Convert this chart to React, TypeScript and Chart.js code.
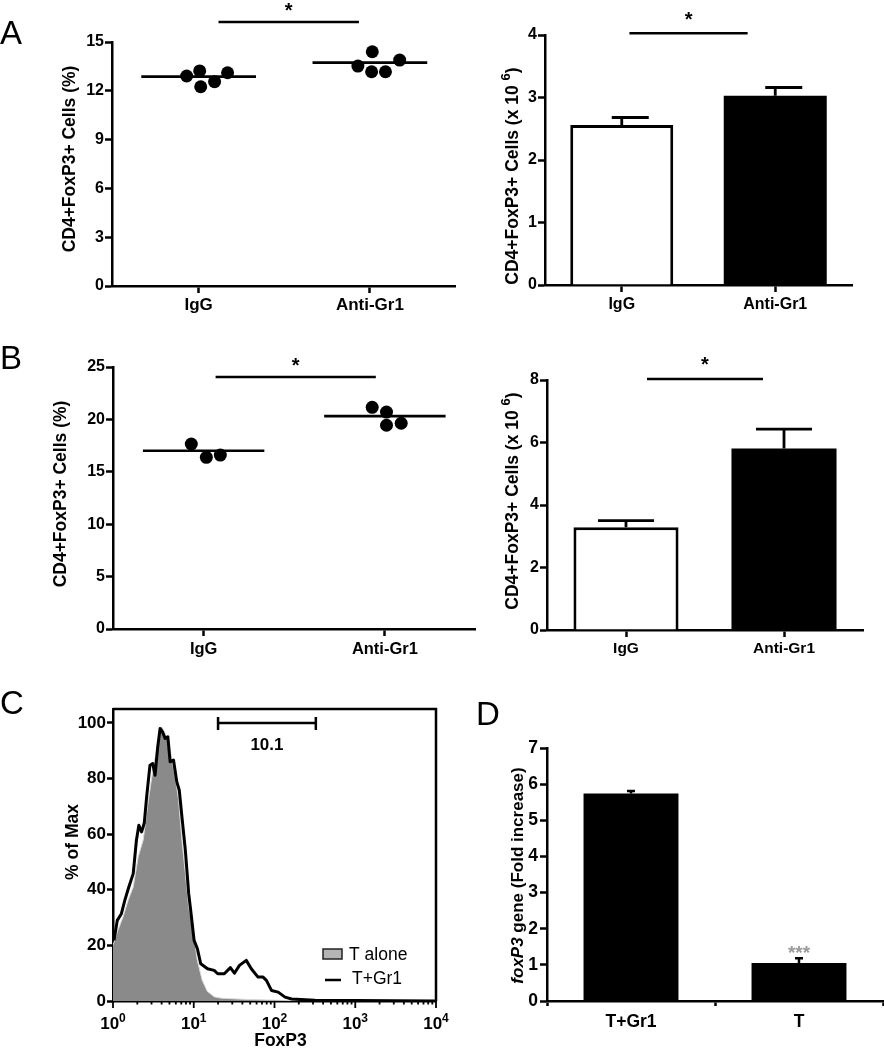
import React, { useEffect, useRef } from "react";
import { Chart, registerables } from "chart.js";

Chart.register(...registerables);

const FONT = "'Liberation Sans', Arial, Helvetica, sans-serif";

// ---------------- Data ----------------
const groups = ["IgG", "Anti-Gr1"];

// Panel A – % CD4+FoxP3+ (dot plot)
const aPctIgG = [12.91, 13.22, 12.25, 12.56, 13.11];
const aPctIgGSpread = [-0.07, 0.006, 0.012, 0.093, 0.169];
const aPctAnti = [13.52, 14.4, 13.17, 13.17, 13.89];
const aPctAntiSpread = [-0.07, 0.014, 0.01, 0.091, 0.174];
const aPctMeans = [12.87, 13.73];
const aPctTicks = [0, 3, 6, 9, 12, 15];

// Panel A – counts (bar)
const aCount = [2.56, 3.03];
const aCountSem = [0.12, 0.13];
const aCountTicks = [0, 1, 2, 3, 4];

// Panel B – % (dot plot)
const bPctIgG = [17.65, 16.38, 16.6];
const bPctIgGSpread = [-0.068, 0.015, 0.092];
const bPctAnti = [21.15, 20.7, 19.44, 19.63];
const bPctAntiSpread = [-0.07, 0.009, 0.009, 0.09];
const bPctMeans = [17.01, 20.32];
const bPctTicks = [0, 5, 10, 15, 20, 25];

// Panel B – counts (bar)
const bCount = [3.29, 5.81];
const bCountSem = [0.21, 0.62];
const bCountTicks = [0, 2, 4, 6, 8];

// Panel C – FoxP3 histogram
const cAloneX = [1.0, 1.15, 1.33, 1.54, 1.78, 2.05, 2.37, 2.74, 3.16, 3.65, 4.02, 4.42, 4.87, 5.36, 5.9, 6.49, 7.14, 7.87, 8.66, 10.0, 11.0, 12.7, 14.7, 17.9, 22, 30, 50, 100, 200, 10000];
const cAloneY = [20, 25.4, 30.2, 36.2, 41, 51.8, 58, 72.2, 84.2, 93.8, 98.6, 96.2, 93.8, 86.6, 80.6, 72.2, 57.8, 45.8, 33.8, 24.2, 15, 7.5, 3.5, 1.5, 1, 0.8, 0.5, 0.3, 0.1, 0];
const cGr1X = [1.03, 1.13, 1.27, 1.4, 1.57, 1.78, 1.95, 2.09, 2.26, 2.44, 2.61, 2.87, 3.1, 3.32, 3.58, 3.83, 4.1, 4.42, 4.78, 5.1, 5.62, 6.17, 6.62, 7.14, 7.87, 8.66, 9.17, 10.1, 11.1, 12.2, 14.8, 17.9, 19.8, 23.9, 28.4, 31.9, 36.8, 44.7, 51.6, 62.5, 72.2, 79.4, 91.7, 111, 135, 163, 316, 10000];
const cGr1Y = [21.8, 29, 31.4, 36.2, 41, 45.8, 57.8, 63.2, 60.8, 64, 73.4, 84.8, 85.4, 81.2, 91.4, 98, 96.8, 94.4, 95, 86, 86.6, 78.8, 75.8, 66.2, 54.2, 38.6, 32.6, 21.8, 18.8, 13.4, 11.6, 11, 9.8, 9.8, 12, 10, 12.8, 14.6, 11.6, 8.6, 8.6, 7.4, 3.8, 3.2, 1.4, 0.7, 0.3, 0];
const cYTicks = [0, 20, 40, 60, 80, 100];
const cXDecades = [1, 10, 100, 1000, 10000];
const cXExponents = ["0", "1", "2", "3", "4"];
const cGate = [20, 325];
const cGateLabel = "10.1";
const cLegend = ["T alone", "T+Gr1"];

// Panel D – foxP3 gene
const dGroups = ["T+Gr1", "T"];
const dFold = [5.74, 1.05];
const dSem = [0.07, 0.13];
const dTicks = [0, 1, 2, 3, 4, 5, 6, 7];

// ---------------- helpers ----------------
type Rect = { x: number; y: number; w: number; h: number };
type Area = { l: number; t: number; r: number; b: number };
type Geom = { padding: any; yWidth: number; xHeight: number };

const bold = (size: number) => ({ size, weight: "bold" as const, family: FONT });

function baseOpts(g: Geom, scales: any) {
  return {
    responsive: false,
    maintainAspectRatio: false,
    animation: false,
    devicePixelRatio: 1,
    events: [],
    layout: { padding: g.padding },
    plugins: { legend: { display: false }, tooltip: { enabled: false }, title: { display: false } },
    scales,
  };
}

function yScale(g: Geom, ticks: number[], size: number, tickLen: number, pad: number, max?: number) {
  return {
    type: "linear",
    min: ticks[0],
    max: max ?? ticks[ticks.length - 1],
    z: 1,
    afterBuildTicks: (s: any) => {
      s.ticks = ticks.map((v) => ({ value: v }));
    },
    afterFit: (s: any) => {
      s.width = g.yWidth;
    },
    ticks: { font: bold(size), color: "#000", padding: pad, autoSkip: false },
    grid: { drawOnChartArea: false, drawTicks: true, tickLength: tickLen, tickWidth: 2.5, tickColor: "#000" },
    border: { display: true, color: "#000", width: 2.5 },
  };
}

function xDotScale(g: Geom, min: number, max: number, labels: string[], size: number, tickLen: number, pad: number) {
  return {
    type: "linear",
    min,
    max,
    z: 1,
    afterBuildTicks: (s: any) => {
      s.ticks = labels.map((_, i) => ({ value: i }));
    },
    afterFit: (s: any) => {
      s.height = g.xHeight;
    },
    ticks: {
      callback: (v: any) => labels[Math.round(Number(v))] ?? "",
      font: bold(size),
      color: "#000",
      padding: pad,
      maxRotation: 0,
      autoSkip: false,
    },
    grid: { drawOnChartArea: false, drawTicks: true, tickLength: tickLen, tickWidth: 2.5, tickColor: "#000" },
    border: { display: true, color: "#000", width: 2.5 },
  };
}

function xCatScale(g: Geom, size: number, tickLen: number, pad: number, gridOffset: boolean) {
  return {
    type: "category",
    offset: true,
    z: 1,
    afterFit: (s: any) => {
      s.height = g.xHeight;
    },
    ticks: { font: bold(size), color: "#000", padding: pad, maxRotation: 0, autoSkip: false },
    grid: {
      offset: gridOffset,
      drawOnChartArea: false,
      drawTicks: true,
      tickLength: tickLen,
      tickWidth: 2.5,
      tickColor: "#000",
    },
    border: { display: true, color: "#000", width: 2.5 },
  };
}

type Part = { text: string; italic?: boolean; sup?: boolean };

function drawYTitle(chart: any, parts: Part[], dx: number, dy: number, size: number) {
  const ctx = chart.ctx;
  const { left, top, bottom } = chart.chartArea;
  ctx.save();
  ctx.translate(left + dx, (top + bottom) / 2 + dy);
  ctx.rotate(-Math.PI / 2);
  const fonts = parts.map(
    (p) => `${p.italic ? "italic " : ""}bold ${p.sup ? Math.round(size * 0.72) : size}px ${FONT}`
  );
  let total = 0;
  parts.forEach((p, i) => {
    ctx.font = fonts[i];
    total += ctx.measureText(p.text).width;
  });
  let x = -total / 2;
  ctx.fillStyle = "#000";
  ctx.textAlign = "left";
  ctx.textBaseline = "alphabetic";
  parts.forEach((p, i) => {
    ctx.font = fonts[i];
    ctx.fillText(p.text, x, p.sup ? -size * 0.45 : 0);
    x += ctx.measureText(p.text).width;
  });
  ctx.restore();
}

function drawSig(chart: any, x0: number, x1: number, yv: number, starDy: number) {
  const ctx = chart.ctx;
  const xs = chart.scales.x;
  const ys = chart.scales.y;
  const p0 = xs.getPixelForValue(x0);
  const p1 = xs.getPixelForValue(x1);
  const py = ys.getPixelForValue(yv);
  ctx.save();
  ctx.strokeStyle = "#000";
  ctx.lineWidth = 2.5;
  ctx.beginPath();
  ctx.moveTo(p0, py);
  ctx.lineTo(p1, py);
  ctx.stroke();
  ctx.fillStyle = "#000";
  ctx.font = `bold 20px ${FONT}`;
  ctx.textAlign = "center";
  ctx.textBaseline = "alphabetic";
  ctx.fillText("*", (p0 + p1) / 2, py - starDy);
  ctx.restore();
}

function drawErrorBars(chart: any, sems: number[], capL: number, capR: number, lw: number) {
  const ctx = chart.ctx;
  const ys = chart.scales.y;
  const meta = chart.getDatasetMeta(0);
  const vals = chart.data.datasets[0].data as number[];
  ctx.save();
  ctx.strokeStyle = "#000";
  ctx.lineWidth = lw;
  meta.data.forEach((el: any, i: number) => {
    const yTop = ys.getPixelForValue(vals[i] + sems[i]);
    ctx.beginPath();
    ctx.moveTo(el.x, el.y);
    ctx.lineTo(el.x, yTop);
    ctx.moveTo(el.x + capL, yTop);
    ctx.lineTo(el.x + capR, yTop);
    ctx.stroke();
  });
  ctx.restore();
}

const MEAN_HALF = 0.335;

function dotConfig(
  g: Geom,
  igg: number[],
  iggSpread: number[],
  anti: number[],
  antiSpread: number[],
  means: number[],
  ticks: number[],
  xMin: number,
  catSize: number,
  tickSize: number,
  xPad: number,
  sig: { x0: number; x1: number; y: number; dy: number },
  title: { dx: number; dy: number }
) {
  const pts = (vals: number[], spread: number[], c: number) => vals.map((v, i) => ({ x: c + spread[i], y: v }));
  const meanLine = (c: number) => [
    { x: c - MEAN_HALF, y: means[c] },
    { x: c + MEAN_HALF, y: means[c] },
  ];
  const dot = { pointRadius: 6.5, pointBackgroundColor: "#000", pointBorderColor: "#000", pointBorderWidth: 0, showLine: false };
  const line = { showLine: true, pointRadius: 0, borderColor: "#000", borderWidth: 2.7, fill: false };
  return {
    type: "scatter",
    data: {
      datasets: [
        { data: pts(igg, iggSpread, 0), ...dot },
        { data: pts(anti, antiSpread, 1), ...dot },
        { data: meanLine(0), ...line },
        { data: meanLine(1), ...line },
      ],
    },
    options: baseOpts(g, {
      x: xDotScale(g, xMin, 1.5, groups, catSize, 7, xPad),
      y: yScale(g, ticks, tickSize, 7, 1),
    }),
    plugins: [
      {
        id: "dotDecor",
        afterDraw(chart: any) {
          drawSig(chart, sig.x0, sig.x1, sig.y, sig.dy);
          drawYTitle(chart, [{ text: "CD4+FoxP3+ Cells (%)" }], title.dx, title.dy, 17.5);
        },
      },
    ],
  };
}

function countConfig(
  g: Geom,
  vals: number[],
  sems: number[],
  ticks: number[],
  barPct: number,
  catSize: number,
  tickSize: number,
  xPad: number,
  cap: [number, number],
  sig: { x0: number; x1: number; y: number; dy: number },
  title: { dx: number; dy: number }
) {
  return {
    type: "bar",
    data: {
      labels: groups,
      datasets: [
        {
          data: vals,
          backgroundColor: ["#ffffff", "#000000"],
          borderColor: "#000",
          borderWidth: [3, 0],
          borderSkipped: "start",
          barPercentage: barPct,
          categoryPercentage: 1,
        },
      ],
    },
    options: baseOpts(g, {
      x: xCatScale(g, catSize, 7, xPad, false),
      y: yScale(g, ticks, tickSize, 7, 1),
    }),
    plugins: [
      {
        id: "countDecor",
        afterDatasetsDraw(chart: any) {
          drawErrorBars(chart, sems, cap[0], cap[1], 2.8);
        },
        afterDraw(chart: any) {
          drawSig(chart, sig.x0, sig.x1, sig.y, sig.dy);
          drawYTitle(
            chart,
            [{ text: "CD4+FoxP3+ Cells (x 10 " }, { text: "6", sup: true }, { text: ")" }],
            title.dx,
            title.dy,
            17.5
          );
        },
      },
    ],
  };
}

function histConfig(g: Geom) {
  const zip = (xs: number[], ys: number[]) => xs.map((x, i) => ({ x, y: ys[i] }));
  return {
    type: "line",
    data: {
      datasets: [
        {
          data: zip(cGr1X, cGr1Y),
          borderColor: "#000",
          borderWidth: 3,
          borderJoinStyle: "round",
          pointRadius: 0,
          fill: false,
          tension: 0,
        },
        {
          data: zip(cAloneX, cAloneY),
          borderColor: "#d8d8d8",
          borderWidth: 1,
          backgroundColor: "#8a8a8a",
          pointRadius: 0,
          fill: "origin",
          tension: 0,
        },
      ],
    },
    options: baseOpts(g, {
      x: {
        type: "logarithmic",
        min: 1,
        max: 10000,
        z: 1,
        afterFit: (s: any) => {
          s.height = g.xHeight;
        },
        ticks: { display: false },
        grid: { display: false },
        border: { display: true, color: "#000", width: 2.5 },
      },
      y: { ...yScale(g, cYTicks, 17, 6, 1, 105) },
    }),
    plugins: [
      {
        id: "histDecor",
        afterDraw(chart: any) {
          const ctx = chart.ctx;
          const { left, right, top, bottom } = chart.chartArea;
          const xs = chart.scales.x;
          const ys = chart.scales.y;
          ctx.save();
          ctx.strokeStyle = "#000";
          ctx.fillStyle = "#000";
          // frame
          ctx.lineWidth = 2.5;
          ctx.beginPath();
          ctx.moveTo(left, top);
          ctx.lineTo(right, top);
          ctx.lineTo(right, bottom);
          ctx.stroke();
          // x ticks: majors + minors
          ctx.lineWidth = 1.8;
          cXDecades.forEach((d, i) => {
            const px = xs.getPixelForValue(d);
            ctx.beginPath();
            ctx.moveTo(px, bottom);
            ctx.lineTo(px, bottom + 7);
            ctx.stroke();
            if (i < cXDecades.length - 1) {
              for (let m = 2; m <= 9; m++) {
                const pm = xs.getPixelForValue(d * m);
                ctx.beginPath();
                ctx.moveTo(pm, bottom);
                ctx.lineTo(pm, bottom + 3.5);
                ctx.stroke();
              }
            }
          });
          // x tick labels 10^n
          ctx.textAlign = "left";
          ctx.textBaseline = "alphabetic";
          cXDecades.forEach((d, i) => {
            const px = xs.getPixelForValue(d);
            ctx.font = `bold 17px ${FONT}`;
            const w1 = ctx.measureText("10").width;
            ctx.font = `bold 12px ${FONT}`;
            const w2 = ctx.measureText(cXExponents[i]).width;
            const x0 = px - (w1 + w2) / 2;
            ctx.font = `bold 17px ${FONT}`;
            ctx.fillText("10", x0, bottom + 28);
            ctx.font = `bold 12px ${FONT}`;
            ctx.fillText(cXExponents[i], x0 + w1, bottom + 21);
          });
          // x title
          ctx.font = `bold 17.5px ${FONT}`;
          ctx.textAlign = "center";
          ctx.fillText("FoxP3", (left + right) / 2 + 6, bottom + 45);
          // gate
          const g0 = xs.getPixelForValue(cGate[0]);
          const g1 = xs.getPixelForValue(cGate[1]);
          const gy = ys.getPixelForValue(100);
          ctx.lineWidth = 2.5;
          ctx.beginPath();
          ctx.moveTo(g0, gy);
          ctx.lineTo(g1, gy);
          ctx.moveTo(g0, gy - 6);
          ctx.lineTo(g0, gy + 7);
          ctx.moveTo(g1, gy - 6);
          ctx.lineTo(g1, gy + 7);
          ctx.stroke();
          ctx.font = `bold 17px ${FONT}`;
          ctx.fillText(cGateLabel, xs.getPixelForValue(Math.sqrt(cGate[0] * cGate[1])), gy + 27);
          // legend
          const lx = right - 113;
          const r1 = bottom - 47;
          const r2 = bottom - 24;
          ctx.fillStyle = "#b4b4b4";
          ctx.fillRect(lx, r1 - 5, 19, 10);
          ctx.lineWidth = 1.5;
          ctx.strokeStyle = "#222";
          ctx.strokeRect(lx, r1 - 5, 19, 10);
          ctx.strokeStyle = "#000";
          ctx.lineWidth = 2.5;
          ctx.beginPath();
          ctx.moveTo(lx + 2, r2 + 3);
          ctx.lineTo(lx + 18, r2 + 3);
          ctx.stroke();
          ctx.fillStyle = "#000";
          ctx.font = `17.5px ${FONT}`;
          ctx.textAlign = "left";
          ctx.fillText(cLegend[0], lx + 26, r1 + 6);
          ctx.fillText(cLegend[1], lx + 29, r2 + 7);
          ctx.restore();
          drawYTitle(chart, [{ text: "% of Max" }], -35, -13, 17.5);
        },
      },
    ],
  };
}

function foldConfig(g: Geom) {
  return {
    type: "bar",
    data: {
      labels: dGroups,
      datasets: [
        {
          data: dFold,
          backgroundColor: "#000",
          borderWidth: 0,
          barPercentage: 0.565,
          categoryPercentage: 1,
        },
      ],
    },
    options: baseOpts(g, {
      x: xCatScale(g, 17.5, 5, 6, true),
      y: yScale(g, dTicks, 17.5, 7, 2),
    }),
    plugins: [
      {
        id: "foldDecor",
        afterDatasetsDraw(chart: any) {
          drawErrorBars(chart, dSem, -4, 4, 2.5);
        },
        afterDraw(chart: any) {
          const ctx = chart.ctx;
          const el = chart.getDatasetMeta(0).data[1] as any;
          const ys = chart.scales.y;
          ctx.save();
          ctx.fillStyle = "#9a9a9a";
          ctx.font = `bold 19px ${FONT}`;
          ctx.textAlign = "center";
          ctx.textBaseline = "alphabetic";
          ctx.fillText("***", el.x, ys.getPixelForValue(dFold[1] + dSem[1]) + 1);
          ctx.restore();
          drawYTitle(chart, [{ text: "foxP3", italic: true }, { text: " gene (Fold increase)" }], -24, 1, 17);
        },
      },
    ],
  };
}

function Panel({ rect, area, make }: { rect: Rect; area: Area; make: (g: Geom) => any }) {
  const ref = useRef<HTMLCanvasElement | null>(null);
  useEffect(() => {
    const g: Geom = {
      padding: { left: 0, top: area.t - rect.y, right: rect.x + rect.w - area.r, bottom: 0 },
      yWidth: area.l - rect.x,
      xHeight: rect.y + rect.h - area.b,
    };
    const chart = new Chart(ref.current as HTMLCanvasElement, make(g));
    return () => chart.destroy();
  }, []);
  return (
    <canvas
      ref={ref}
      width={rect.w}
      height={rect.h}
      style={{ position: "absolute", left: rect.x, top: rect.y, width: rect.w, height: rect.h, display: "block" }}
    />
  );
}

const letterStyle = (left: number, top: number): React.CSSProperties => ({
  position: "absolute",
  left,
  top,
  fontFamily: FONT,
  fontSize: 33,
  lineHeight: "33px",
  color: "#000",
});

export default function App() {
  return (
    <div style={{ position: "absolute", left: 0, top: 0, width: 884, height: 1050, background: "#fff", overflow: "hidden" }}>
      <Panel
        rect={{ x: 0, y: 0, w: 462, h: 322 }}
        area={{ l: 112, t: 42, r: 457, b: 286 }}
        make={(g) =>
          dotConfig(g, aPctIgG, aPctIgGSpread, aPctAnti, aPctAntiSpread, aPctMeans, aPctTicks, -0.506, 17, 16, 2,
            { x0: 0.116, x1: 0.936, y: 16.23, dy: 4.6 }, { dx: -37, dy: -5 })
        }
      />
      <Panel
        rect={{ x: 462, y: 0, w: 422, h: 322 }}
        area={{ l: 545, t: 35, r: 852, b: 285 }}
        make={(g) =>
          countConfig(g, aCount, aCountSem, aCountTicks, 0.671, 16, 16, 3, [-10, 27],
            { x0: 0.05, x1: 0.82, y: 4.03, dy: 7.6 }, { dx: -27, dy: 16 })
        }
      />
      <Panel
        rect={{ x: 0, y: 330, w: 482, h: 335 }}
        area={{ l: 113, t: 367, r: 477, b: 629 }}
        make={(g) =>
          dotConfig(g, bPctIgG, bPctIgGSpread, bPctAnti, bPctAntiSpread, bPctMeans, bPctTicks, -0.5, 16.5, 16, 4,
            { x0: 0.066, x1: 0.95, y: 24.05, dy: 4.6 }, { dx: -47, dy: -4 })
        }
      />
      <Panel
        rect={{ x: 482, y: 330, w: 402, h: 335 }}
        area={{ l: 547, t: 380, r: 863, b: 630 }}
        make={(g) =>
          countConfig(g, bCount, bCountSem, bCountTicks, 0.665, 15.5, 16, 2, [-28, 28],
            { x0: 0.133, x1: 0.867, y: 8.03, dy: 7.6 }, { dx: -29, dy: -4 })
        }
      />
      <Panel rect={{ x: 0, y: 680, w: 460, h: 370 }} area={{ l: 113, t: 709, r: 436, b: 1001 }} make={(g) => histConfig(g)} />
      <Panel rect={{ x: 460, y: 680, w: 424, h: 370 }} area={{ l: 547, t: 748, r: 883, b: 1001 }} make={(g) => foldConfig(g)} />
      <div style={letterStyle(0, 16)}>A</div>
      <div style={letterStyle(0, 341)}>B</div>
      <div style={letterStyle(0, 686)}>C</div>
      <div style={letterStyle(476, 697)}>D</div>
    </div>
  );
}
